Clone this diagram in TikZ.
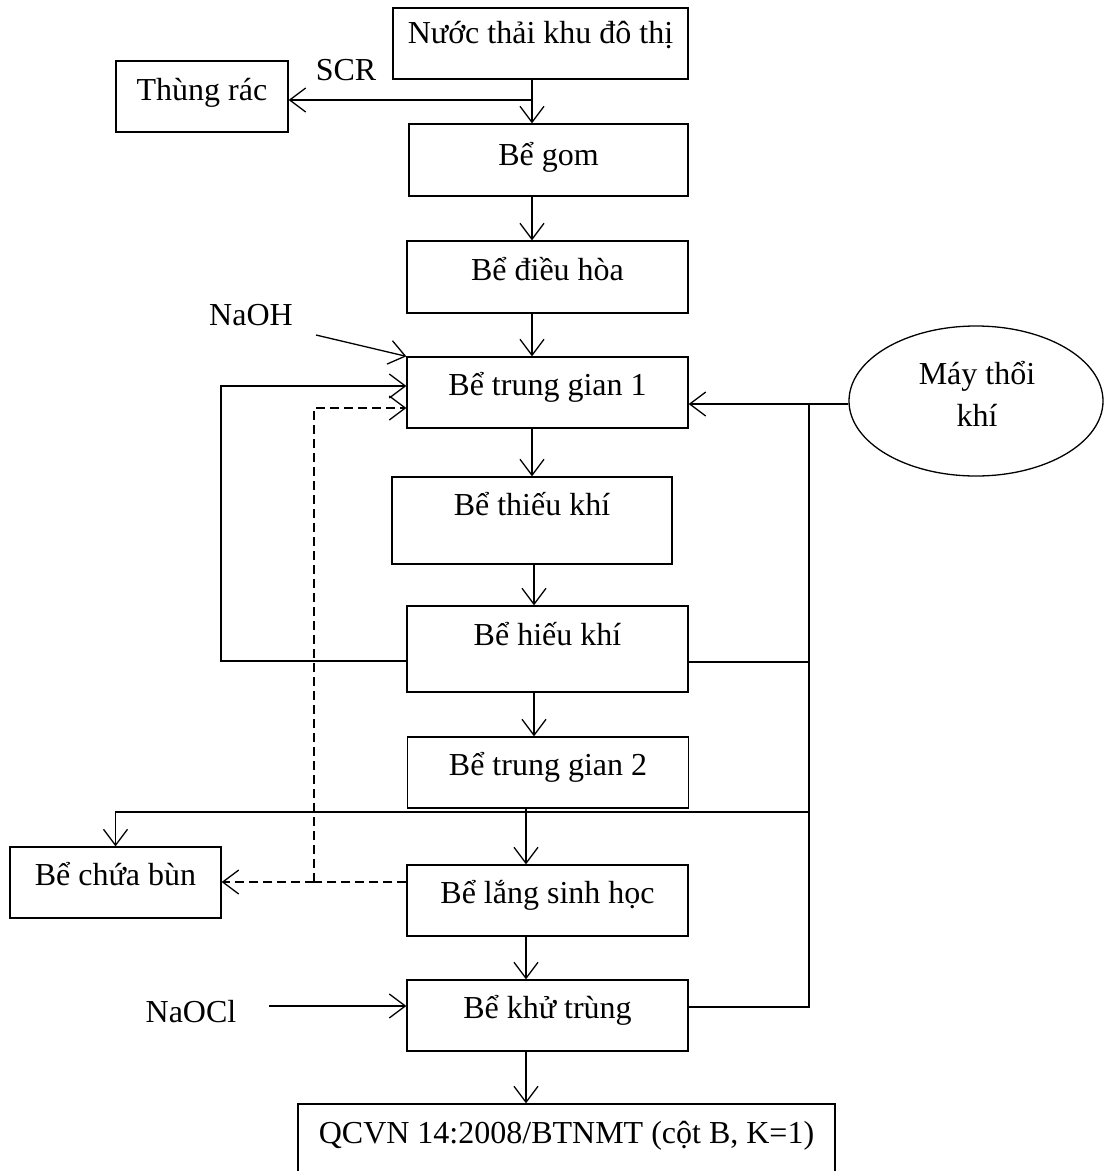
\documentclass[tikz,border=0pt]{standalone}
\usepackage{fontspec}
\setmainfont{Liberation Serif}
\usetikzlibrary{arrows.meta,shapes.geometric}
\begin{document}
\begin{tikzpicture}[x=1pt,y=-1pt,
  every node/.style={font=\fontsize{32}{42}\selectfont, inner sep=0pt},
  ln/.style={line width=1.3pt, black},
  box/.style={draw, ln, text height=22pt, minimum height=71pt, minimum width=281pt},
  arr/.style={ln, -{Straight Barb[length=16pt,width=24pt,line width=1.3pt]}},
  dsh/.style={dash pattern=on 9pt off 5pt}
]
\useasboundingbox[fill=white] (0,0) rectangle (1104,1171);
\clip (0,0) rectangle (1104,1171);

% boxes
\node[box, minimum width=295pt, text depth=22pt] (nuoc) at (540.5,43.5) {Nước thải khu đô thị};
\node[box, minimum width=172pt, text depth=15pt] (thung) at (202,96.5) {Thùng rác};
\node[anchor=base] (scr) at (346,80) {SCR};
\node[box, minimum width=279pt, minimum height=72pt, text depth=12pt] (gom) at (548.5,160) {Bể gom};
\node[box, minimum height=72pt, text depth=16pt] (dieuhoa) at (547.5,277) {Bể điều hòa};
\node[box, text depth=17pt] (tg1) at (547.5,392.5) {Bể trung gian 1};
\node[box, minimum width=280pt, minimum height=87pt, text depth=33pt] (thieu) at (532,520.5) {Bể thiếu khí};
\node[box, minimum height=86pt, text depth=30pt] (hieu) at (547.5,649) {Bể hiếu khí};
\node[box, text depth=17pt] (tg2) at (548,772.5) {Bể trung gian 2};
\node[box, text depth=17pt] (lang) at (547.5,900.5) {Bể lắng sinh học};
\node[box, text depth=17pt] (khu) at (547.5,1015.5) {Bể khử trùng};
\node[box, minimum width=211pt, text depth=17pt] (bun) at (115.5,882.5) {Bể chứa bùn};
\node[box, minimum width=537pt, minimum height=80pt, text depth=24pt] (qc) at (566.5,1144) {QCVN 14:2008/BTNMT (cột B, K=1)};
\node[draw, ln, ellipse, minimum width=254pt, minimum height=150pt] (may) at (976,401) {};
\node[align=center] (maytxt) at (977,394) {Máy thổi\\khí};
\node[anchor=base] (naoh) at (251,325) {NaOH};
\node[anchor=base] (naocl) at (191,1022) {NaOCl};

% helper coordinates
\coordinate (cx1) at (532,0);
\coordinate (cx2) at (534,0);
\coordinate (cx3) at (526,0);
\coordinate (scrj) at (532,100);
\coordinate (naohs) at (316,335);
\coordinate (naocls) at (269,1006);
\coordinate (loopc) at (221,661);
\coordinate (dj) at (314,882);
\coordinate (airt) at (809,404);
\coordinate (airh) at (809,662);
\coordinate (sl) at (809,812);
\coordinate (airb) at (809,1007);

% main flow
\draw[arr] (nuoc.south -| cx1) -- (gom.north -| cx1);
\draw[arr] (scrj) -- (scrj -| thung.east);
\draw[arr] (gom.south -| cx1) -- (dieuhoa.north -| cx1);
\draw[arr] (dieuhoa.south -| cx1) -- (tg1.north -| cx1);
\draw[arr] (tg1.south -| cx1) -- (thieu.north -| cx1);
\draw[arr] (thieu.south -| cx2) -- (hieu.north -| cx2);
\draw[arr] (hieu.south -| cx2) -- (tg2.north -| cx2);
\draw[arr] (tg2.south -| cx3) -- (lang.north -| cx3);
\draw[arr] (lang.south -| cx3) -- (khu.north -| cx3);
\draw[arr] (khu.south -| cx3) -- (qc.north -| cx3);

% chemicals
\draw[arr] (naohs) -- (tg1.north west);
\draw[arr] (naocls) -- (naocls -| khu.west);

% recirculation
\draw[arr] (loopc -| hieu.west) -- (loopc) |- ([yshift=6.5pt]tg1.west);
\draw[ln, dsh] (dj -| lang.west) -- (dj);
\draw[arr, dsh] (dj) |- ([yshift=-15.5pt]tg1.west);
\draw[arr, dsh] (dj) -- (dj -| bun.east);

% air
\draw[arr] (airt -| may.west) -- (airt -| tg1.east);
\draw[ln] (airt) -- (airb) -- (airb -| khu.east);
\draw[ln] (airh) -- (airh -| hieu.east);
\draw[arr] (sl) -| (bun.north);
\end{tikzpicture}
\end{document}
